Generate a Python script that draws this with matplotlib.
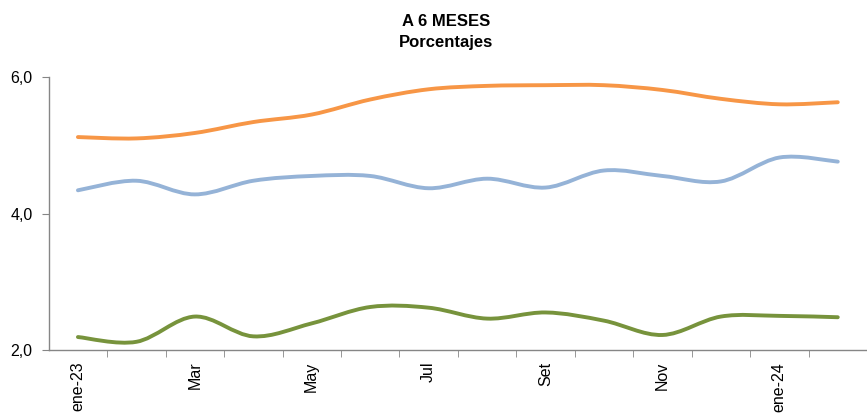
import matplotlib
matplotlib.use("Agg")
import matplotlib.pyplot as plt
import numpy as np
from matplotlib.path import Path
from matplotlib.patches import PathPatch

plt.rcParams['font.family'] = ['Liberation Sans', 'DejaVu Sans']

# datos (ene-23 a feb-24)
meses = ['ene-23', 'feb', 'Mar', 'abr', 'May', 'jun', 'Jul', 'ago',
         'Set', 'oct', 'Nov', 'dic', 'ene-24', 'feb']
etiquetas = ['ene-23', 'Mar', 'May', 'Jul', 'Set', 'Nov', 'ene-24']
naranja = [5.12, 5.10, 5.18, 5.34, 5.45, 5.67, 5.82, 5.87, 5.88, 5.88, 5.81, 5.68, 5.60, 5.63]
azul = [4.34, 4.48, 4.28, 4.48, 4.55, 4.55, 4.37, 4.51, 4.38, 4.63, 4.55, 4.47, 4.82, 4.76]
verde = [2.19, 2.12, 2.49, 2.20, 2.39, 2.63, 2.62, 2.46, 2.55, 2.43, 2.22, 2.49, 2.50, 2.48]


def curva_suave(ax, y, color):
    # linea suavizada tipo Excel: bezier cubica con puntos de control de vecinos
    x = np.arange(len(y), dtype=float)
    y = np.asarray(y, dtype=float)
    pts = np.column_stack([x, y])
    verts = [pts[0]]
    codes = [Path.MOVETO]
    n = len(pts)
    for i in range(n - 1):
        p0 = pts[max(i - 1, 0)]
        p1 = pts[i]
        p2 = pts[i + 1]
        p3 = pts[min(i + 2, n - 1)]
        c1 = p1 + (p2 - p0) / 6.0
        c2 = p2 - (p3 - p1) / 6.0
        verts += [c1, c2, p2]
        codes += [Path.CURVE4] * 3
    patch = PathPatch(Path(verts, codes), fill=False, edgecolor=color,
                      linewidth=2.8, capstyle='round', joinstyle='round')
    ax.add_patch(patch)


fig = plt.figure(figsize=(8.67, 4.16), dpi=100)
ancho_cat = 58.75 / 867
izq = 48.7 / 867
ax = fig.add_axes([izq, 66 / 416, 1 - izq, 273 / 416])

curva_suave(ax, naranja, '#F79646')
curva_suave(ax, azul, '#95B3D7')
curva_suave(ax, verde, '#77933C')

ax.set_xlim(-0.5, -0.5 + (1 - izq) / ancho_cat)
ax.set_ylim(2, 6)

ax.set_yticks([2, 4, 6])
ax.set_yticklabels(['2,0', '4,0', '6,0'], fontsize=11.5)
ax.set_xticks(range(0, len(meses), 2))
ax.set_xticklabels(etiquetas, rotation=90, fontsize=11.5, va='top')
ax.set_xticks(np.arange(0.5, len(meses), 1), minor=True)
ax.tick_params(axis='x', which='major', length=0, pad=8.5)
ax.tick_params(axis='x', which='minor', length=5, color='#868686', direction='out')
ax.tick_params(axis='y', length=5, color='#868686', direction='out', pad=6.5)

for s in ['top', 'right']:
    ax.spines[s].set_visible(False)
for s in ['left', 'bottom']:
    ax.spines[s].set_color('#868686')
    ax.spines[s].set_linewidth(1.0)

fig.text(446 / 867, 1 - 21 / 416, 'A 6 MESES', ha='center', va='center',
         fontsize=12, fontweight='bold')
fig.text(446 / 867, 1 - 42 / 416, 'Porcentajes', ha='center', va='center',
         fontsize=12, fontweight='bold')

fig.savefig('out.png', dpi=100)
